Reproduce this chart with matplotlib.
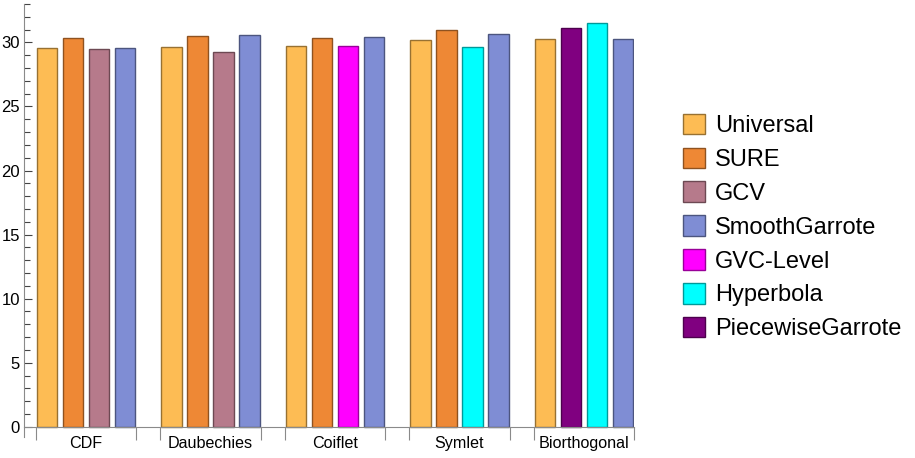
import matplotlib
matplotlib.use("Agg")
import matplotlib.pyplot as plt
from matplotlib.patches import Patch
from matplotlib.colors import to_rgb

plt.rcParams["font.family"] = ["Liberation Sans", "DejaVu Sans"]

groups = ["CDF", "Daubechies", "Coiflet", "Symlet", "Biorthogonal"]
group_methods = [
    ["Universal", "SURE", "GCV", "SmoothGarrote"],
    ["Universal", "SURE", "GCV", "SmoothGarrote"],
    ["Universal", "SURE", "GVC-Level", "SmoothGarrote"],
    ["Universal", "SURE", "Hyperbola", "SmoothGarrote"],
    ["Universal", "PiecewiseGarrote", "Hyperbola", "SmoothGarrote"],
]
group_values = [
    [29.53, 30.31, 29.48, 29.58],
    [29.66, 30.47, 29.22, 30.55],
    [29.74, 30.34, 29.71, 30.39],
    [30.18, 30.98, 29.66, 30.65],
    [30.26, 31.12, 31.48, 30.26],
]
legend_order = ["Universal", "SURE", "GCV", "SmoothGarrote",
                "GVC-Level", "Hyperbola", "PiecewiseGarrote"]
colors = {
    "Universal": "#FDBC54",
    "SURE": "#EE8835",
    "GCV": "#B67A8B",
    "SmoothGarrote": "#7F8DD4",
    "GVC-Level": "#FF00FF",
    "Hyperbola": "#00FFFF",
    "PiecewiseGarrote": "#800080",
}


def darker(c, f=0.6):
    r, g, b = to_rgb(c)
    return (r * f, g * f, b * f)


fig = plt.figure(figsize=(9.15, 4.58), dpi=100)
ax = fig.add_axes([24 / 915, (458 - 437) / 458, 610 / 915, 433 / 458])

pitch = 4.79
width = 0.78
edge_ticks = []
centers = []
for g, (methods, vals) in enumerate(zip(group_methods, group_values)):
    start = g * pitch
    for j, (m, v) in enumerate(zip(methods, vals)):
        ax.bar(start + j, v, width=width, align="edge", color=colors[m],
               edgecolor=darker(colors[m]), linewidth=1.0)
    edge_ticks += [start - 0.04, start + 3 + width + 0.04]
    centers.append(start + (3 + width) / 2)

ax.set_xlim(-0.5, 4 * pitch + 3 + width + 0.04)
ax.set_ylim(-0.8, 33)

for s in ["top", "right"]:
    ax.spines[s].set_visible(False)
ax.spines["bottom"].set_position(("data", 0))
ax.spines["bottom"].set_color("#8a8a8a")
ax.spines["left"].set_color("#8a8a8a")

ax.set_xticks(centers)
ax.set_xticklabels(groups, fontsize=11.6)
ax.tick_params(axis="x", which="major", length=0, pad=7)
ax.set_xticks(edge_ticks, minor=True)
ax.tick_params(axis="x", which="minor", direction="out", length=9,
               color="#8a8a8a", width=0.8)

ax.set_yticks(range(0, 31, 5))
ax.set_yticks(range(0, 34), minor=True)
ax.tick_params(axis="y", which="major", direction="in", length=6,
               labelsize=12, color="#444444", width=0.8, pad=3)
ax.tick_params(axis="y", which="minor", direction="in", length=4,
               color="#444444", width=0.8)

handles = [Patch(facecolor=colors[m], edgecolor=darker(colors[m]), label=m)
           for m in legend_order]
fig.legend(handles=handles, loc="center left",
           bbox_to_anchor=(683 / 915, 1 - 227 / 458), frameon=False,
           fontsize=17, handlelength=0.95, handleheight=0.95,
           labelspacing=0.45, handletextpad=0.42, borderpad=0,
           borderaxespad=0)

fig.savefig("out.png", dpi=100, facecolor="white")
